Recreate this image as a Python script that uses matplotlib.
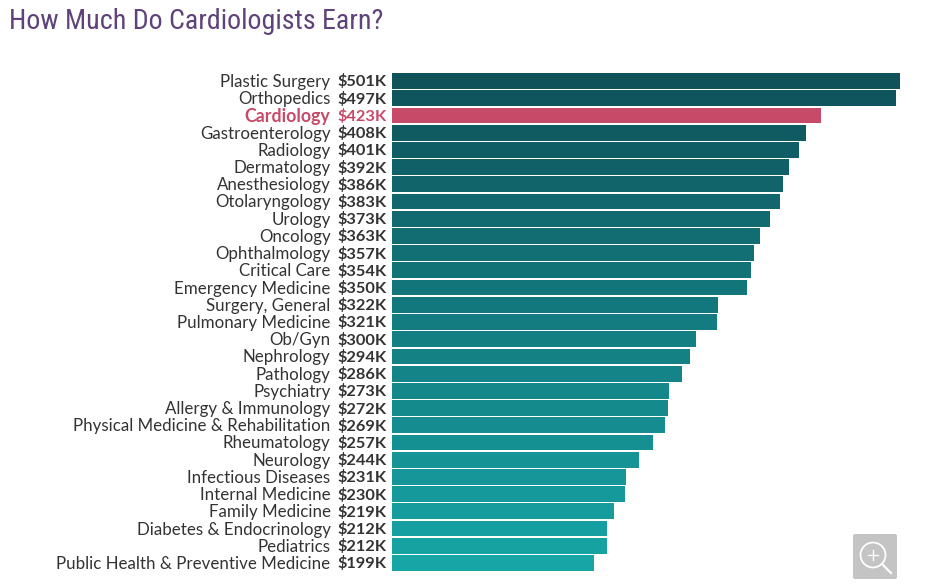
import matplotlib
matplotlib.use("Agg")
import matplotlib.pyplot as plt
from matplotlib.colors import LinearSegmentedColormap
from matplotlib.patches import Circle, FancyBboxPatch

specialties = [
    "Plastic Surgery", "Orthopedics", "Cardiology", "Gastroenterology", "Radiology",
    "Dermatology", "Anesthesiology", "Otolaryngology", "Urology", "Oncology",
    "Ophthalmology", "Critical Care", "Emergency Medicine", "Surgery, General",
    "Pulmonary Medicine", "Ob/Gyn", "Nephrology", "Pathology", "Psychiatry",
    "Allergy & Immunology", "Physical Medicine & Rehabilitation", "Rheumatology",
    "Neurology", "Infectious Diseases", "Internal Medicine", "Family Medicine",
    "Diabetes & Endocrinology", "Pediatrics", "Public Health & Preventive Medicine",
]
earnings = [
    501, 497, 423, 408, 401, 392, 386, 383, 373, 363, 357, 354, 350, 322, 321,
    300, 294, 286, 273, 272, 269, 257, 244, 231, 230, 219, 212, 212, 199,
]
highlight = "Cardiology"

W, H = 935, 584
fig = plt.figure(figsize=(W / 100, H / 100), dpi=100)

# bars live in an axes lined up with the pixel positions of the reference
left, right, top, bottom = 392, 900, 72.4, 571.6
ax = fig.add_axes([left / W, 1 - bottom / H, (right - left) / W, (bottom - top) / H])

# shade follows the rank of the bar, dark at the top
cmap = LinearSegmentedColormap.from_list("teal", ["#0f525a", "#17a5a5"])
pink = "#c74a68"
dark = "#333333"
n = len(specialties)

for i, (name, value) in enumerate(zip(specialties, earnings)):
    is_hl = name == highlight
    ax.barh(i, value, height=0.92, color=pink if is_hl else cmap(i / (n - 1)))
    ax.annotate(name, (0, i), xytext=(-44.2, -0.7), textcoords="offset points", ha="right",
                va="center", fontsize=12.8 if is_hl else 12.2, family="Lato",
                fontweight="bold" if is_hl else "normal", color=pink if is_hl else dark)
    ax.annotate(f"${value}K", (0, i), xytext=(-4, -0.7), textcoords="offset points", ha="right",
                va="center", fontsize=11.8, family="Lato", fontweight="bold",
                color=pink if is_hl else dark)

ax.set_xlim(0, max(earnings))
ax.set_ylim(n - 0.5, -0.5)
ax.axis("off")

fig.text(9 / W, 1 - 29 / H, "How Much Do Cardiologists Earn?", fontsize=20.2,
         family=["Roboto Condensed", "Barlow Semi Condensed", "Roboto"],
         color="#5f4279", va="baseline", ha="left")

# zoom button, drawn in pixel coordinates
overlay = fig.add_axes([0, 0, 1, 1])
overlay.set_xlim(0, W)
overlay.set_ylim(H, 0)
overlay.axis("off")
overlay.add_patch(FancyBboxPatch((853, 534), 44, 45, boxstyle="round,pad=0,rounding_size=2",
                                 fc="#c4c4c4", ec="none"))
overlay.add_patch(Circle((873, 555), 12.5, fc="none", ec="white", lw=1.3))
overlay.plot([868, 878], [555, 555], color="white", lw=1)
overlay.plot([873, 873], [550, 560], color="white", lw=1)
overlay.plot([882, 891], [564, 573], color="white", lw=1.6)

fig.savefig("out.png", dpi=100)
